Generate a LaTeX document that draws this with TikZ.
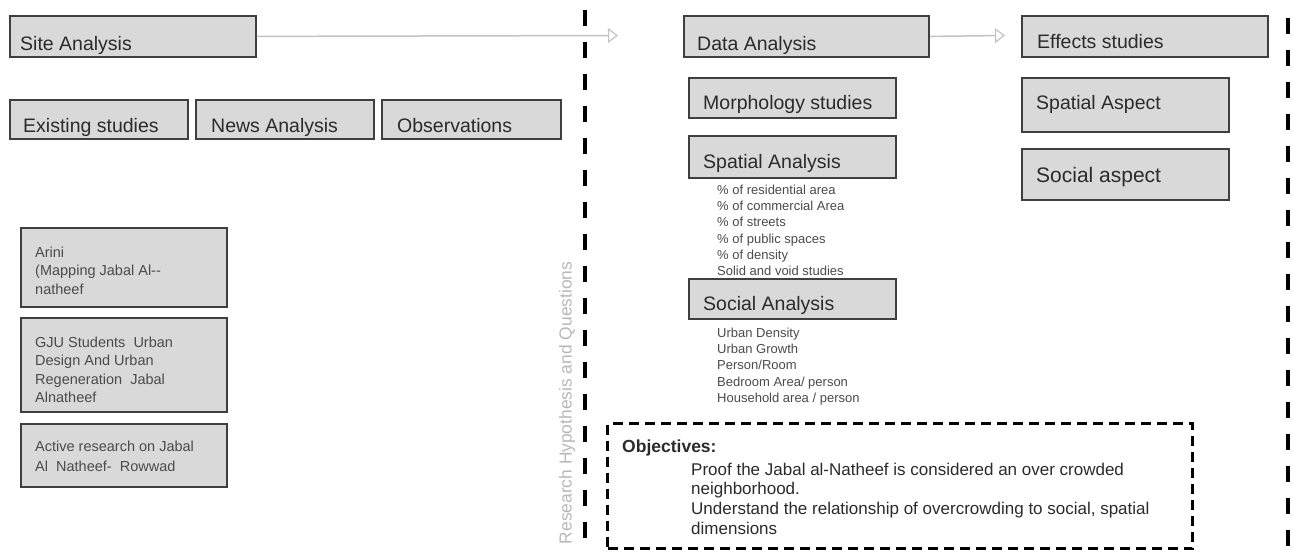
\documentclass[tikz,border=0pt]{standalone}
\usepackage{fontspec}
\setmainfont{Liberation Sans}
\usetikzlibrary{arrows.meta}
\definecolor{boxfill}{HTML}{D9D9D9}
\definecolor{boxline}{HTML}{3F3F3F}
\definecolor{txt}{HTML}{2B2B2B}
\definecolor{arrowgray}{HTML}{C4C4C4}
\definecolor{rotgray}{HTML}{B8B8B8}
\tikzset{
  box/.style={draw=boxline, fill=boxfill, line width=1.8pt, inner sep=0pt, anchor=north west},
  big/.style={font=\fontsize{19.5}{23}\selectfont, text=txt, inner sep=0pt, anchor=base west},
  bigger/.style={font=\fontsize{21}{24}\selectfont, text=txt, inner sep=0pt, anchor=base west},
  small/.style={font=\fontsize{14.5}{18.5}\selectfont, text=txt!85, inner sep=0pt, anchor=north west, align=left},
  list/.style={font=\fontsize{13}{16.3}\selectfont, text=txt!85, inner sep=0pt, anchor=north west, align=left},
  objtxt/.style={font=\fontsize{17}{19.7}\selectfont, text=txt, inner sep=0pt, anchor=north west, align=left},
  sep/.style={draw=black, line width=4pt, dash pattern=on 16pt off 16pt},
  flow/.style={draw=arrowgray, line width=1.5pt, -{Triangle[open, length=10pt, width=15pt, line width=1.2pt]}},
}
\begin{document}
\begin{tikzpicture}[x=1pt,y=-1pt]
\useasboundingbox (0,0) rectangle (1293,552);
\fill[white] (0,0) rectangle (1293,552);

% separators
\coordinate (s1a) at (585,10);
\coordinate (s1b) at (585,552);
\coordinate (s2a) at (1288,18);
\coordinate (s2b) at (1288,552);
\draw[sep] (s1a) -- (s1b);
\draw[sep] (s2a) -- (s2b);

% rotated label
\node[font=\fontsize{17.4}{20}\selectfont, text=rotgray, rotate=90, inner sep=0pt] (rq) at (567,403) {Research Hypothesis and Questions};

% left column
\node[box, minimum width=246, minimum height=41] (site) at (9,15) {};
\node[big] (sitet) at (20,50) {Site Analysis};

\node[box, minimum width=178, minimum height=39] (exist) at (9,99) {};
\node[big] (existt) at (23,132) {Existing studies};
\node[box, minimum width=178, minimum height=39] (news) at (195,99) {};
\node[big] (newst) at (211,132) {News Analysis};
\node[box, minimum width=179, minimum height=39] (obs) at (381,99) {};
\node[big] (obst) at (397,132) {Observations};

\node[box, minimum width=206, minimum height=79] (arini) at (20,227) {};
\node[small] (arinit) at (35,246.6) {Arini\\(Mapping Jabal Al-{}-\\natheef};
\node[box, minimum width=206, minimum height=94] (gju) at (20,317) {};
\node[small] (gjut) at (35,336.6) {GJU Students\ \ Urban\\Design And Urban\\Regeneration\ \ Jabal\\Alnatheef};
\node[box, minimum width=206, minimum height=63] (active) at (20,423) {};
\node[small, font=\fontsize{14.5}{20}\selectfont] (activet) at (35,440.6) {Active research on Jabal\\Al\ \ Natheef-\ \ Rowwad};

% middle column
\node[box, minimum width=245, minimum height=41] (data) at (683,15) {};
\node[big] (datat) at (697,50) {Data Analysis};
\node[box, minimum width=207, minimum height=40] (morph) at (688,77) {};
\node[big] (morpht) at (703,109) {Morphology studies};
\node[box, minimum width=207, minimum height=42] (spat) at (688,135) {};
\node[big] (spatt) at (703,168) {Spatial Analysis};
\node[list] (spatl) at (717,184.6) {\% of residential area\\\% of commercial Area\\\% of streets\\\% of public spaces\\\% of density\\Solid and void studies};
\node[box, minimum width=207, minimum height=40] (soc) at (688,278) {};
\node[big] (soct) at (703,310) {Social Analysis};
\node[list] (socl) at (717,327.6) {Urban Density\\Urban Growth\\Person/Room\\Bedroom Area/ person\\Household area / person};

% right column
\node[box, minimum width=246, minimum height=41] (eff) at (1021,15) {};
\node[big] (efft) at (1037,48) {Effects studies};
\node[box, minimum width=207, minimum height=54] (spasp) at (1021,77) {};
\node[big] (spaspt) at (1036,109) {Spatial Aspect};
\node[box, minimum width=207, minimum height=51] (socasp) at (1021,148) {};
\node[bigger] (socaspt) at (1036,182) {Social aspect};

% objectives
\node[draw=black, line width=3pt, dash pattern=on 10pt off 6pt, minimum width=585, minimum height=125, inner sep=0pt, anchor=north west] (objbox) at (606,422) {};
\node[font=\fontsize{17.5}{20}\selectfont\bfseries, text=txt, inner sep=0pt, anchor=base west] (objt) at (622,452) {Objectives:};
\node[objtxt] (objl) at (691,462.6) {Proof the Jabal al-Natheef is considered an over crowded\\neighborhood.\\Understand the relationship of overcrowding to social, spatial\\dimensions};

% arrows
\coordinate (a1) at (618,35.5);
\coordinate (a2) at (1005,35.5);
\draw[flow] (site.east) -- (a1);
\draw[flow] (data.east) -- (a2);
\end{tikzpicture}
\end{document}
